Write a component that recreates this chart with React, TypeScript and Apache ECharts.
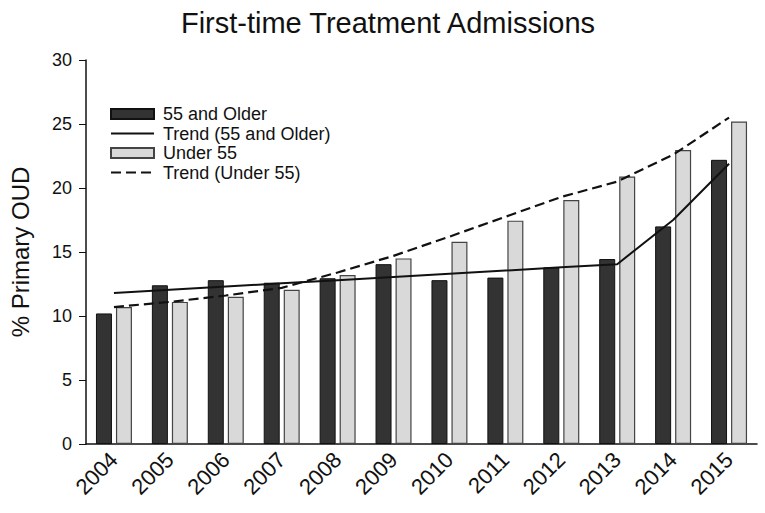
import React, { useEffect, useRef } from "react";
import * as echarts from "echarts";

const years = ["2004", "2005", "2006", "2007", "2008", "2009", "2010", "2011", "2012", "2013", "2014", "2015"];
const older = [10.2, 12.4, 12.8, 12.6, 12.95, 14.05, 12.8, 13.0, 13.8, 14.45, 17.0, 22.2];
const trendOlder = [11.8, 12.05, 12.3, 12.55, 12.8, 13.05, 13.3, 13.55, 13.8, 14.05, 17.5, 21.9];
const under = [10.7, 11.1, 11.5, 12.05, 13.2, 14.5, 15.8, 17.45, 19.06, 20.9, 22.97, 25.2];
const trendUnder = [10.7, 11.1, 11.6, 12.2, 13.4, 14.7, 16.2, 17.75, 19.3, 20.5, 22.6, 25.5];
const yTicks = { min: 0, max: 30, interval: 5 };

const FONT = "Liberation Sans, Arial, sans-serif";
const hiddenSymbol = { color: "transparent", borderColor: "transparent", borderWidth: 0 };

export default function App() {
  const ref = useRef<HTMLDivElement>(null);
  useEffect(() => {
    if (!ref.current) return;
    const chart = echarts.init(ref.current, null, { renderer: "svg" });
    chart.setOption({
      animation: false,
      backgroundColor: "#ffffff",
      textStyle: { fontFamily: FONT, color: "#111" },
      title: {
        text: "First-time Treatment Admissions",
        left: 383,
        textAlign: "center",
        top: 3,
        textStyle: { fontFamily: FONT, fontSize: 29, fontWeight: "normal", color: "#111" },
      },
      legend: {
        orient: "vertical",
        left: 105,
        top: 100,
        itemWidth: 43,
        itemHeight: 10,
        itemGap: 1.5,
        textStyle: { fontFamily: FONT, fontSize: 18, color: "#111", lineHeight: 18, padding: [0, 0, 0, 4] },
        data: [
          { name: "55 and Older", icon: "rect" },
          { name: "Trend (55 and Older)", itemStyle: hiddenSymbol },
          { name: "Under 55", icon: "rect" },
          { name: "Trend (Under 55)", itemStyle: hiddenSymbol },
        ],
      },
      grid: { left: 85, right: 8, top: 60, bottom: 69, containLabel: false },
      xAxis: {
        type: "category",
        data: years,
        axisLine: { show: true, lineStyle: { color: "#111", width: 1.5 } },
        axisTick: { show: false },
        axisLabel: { rotate: 45, fontSize: 22, color: "#111", fontFamily: FONT, margin: 12, interval: 0 },
      },
      yAxis: {
        type: "value",
        min: yTicks.min,
        max: yTicks.max,
        interval: yTicks.interval,
        name: "% Primary OUD",
        nameLocation: "middle",
        nameRotate: 90,
        nameGap: 54,
        nameTextStyle: { fontSize: 24, color: "#111", fontFamily: FONT },
        axisLine: { show: true, lineStyle: { color: "#111", width: 1.5 } },
        axisTick: { show: true, inside: false, length: 7, lineStyle: { color: "#111" } },
        axisLabel: { fontSize: 18, color: "#111", fontFamily: FONT, margin: 14 },
        splitLine: { show: false },
      },
      series: [
        {
          name: "55 and Older",
          type: "bar",
          data: older,
          barWidth: 16,
          barGap: "25%",
          itemStyle: { color: "#333333", borderColor: "#111", borderWidth: 1 },
        },
        {
          name: "Trend (55 and Older)",
          type: "line",
          data: trendOlder,
          symbol: "none",
          z: 5,
          lineStyle: { color: "#111", width: 2, type: "solid" },
          itemStyle: { color: "#111" },
        },
        {
          name: "Under 55",
          type: "bar",
          data: under,
          barWidth: 16,
          barGap: "25%",
          itemStyle: { color: "#d9d9d9", borderColor: "#444", borderWidth: 1.2 },
        },
        {
          name: "Trend (Under 55)",
          type: "line",
          data: trendUnder,
          symbol: "none",
          z: 5,
          lineStyle: { color: "#111", width: 2.2, type: [10, 5] },
          itemStyle: { color: "#111" },
        },
      ],
    });
    return () => chart.dispose();
  }, []);
  return (
    <div
      ref={ref}
      style={{ position: "fixed", left: 0, top: 0, width: 765, height: 513 }}
    />
  );
}
